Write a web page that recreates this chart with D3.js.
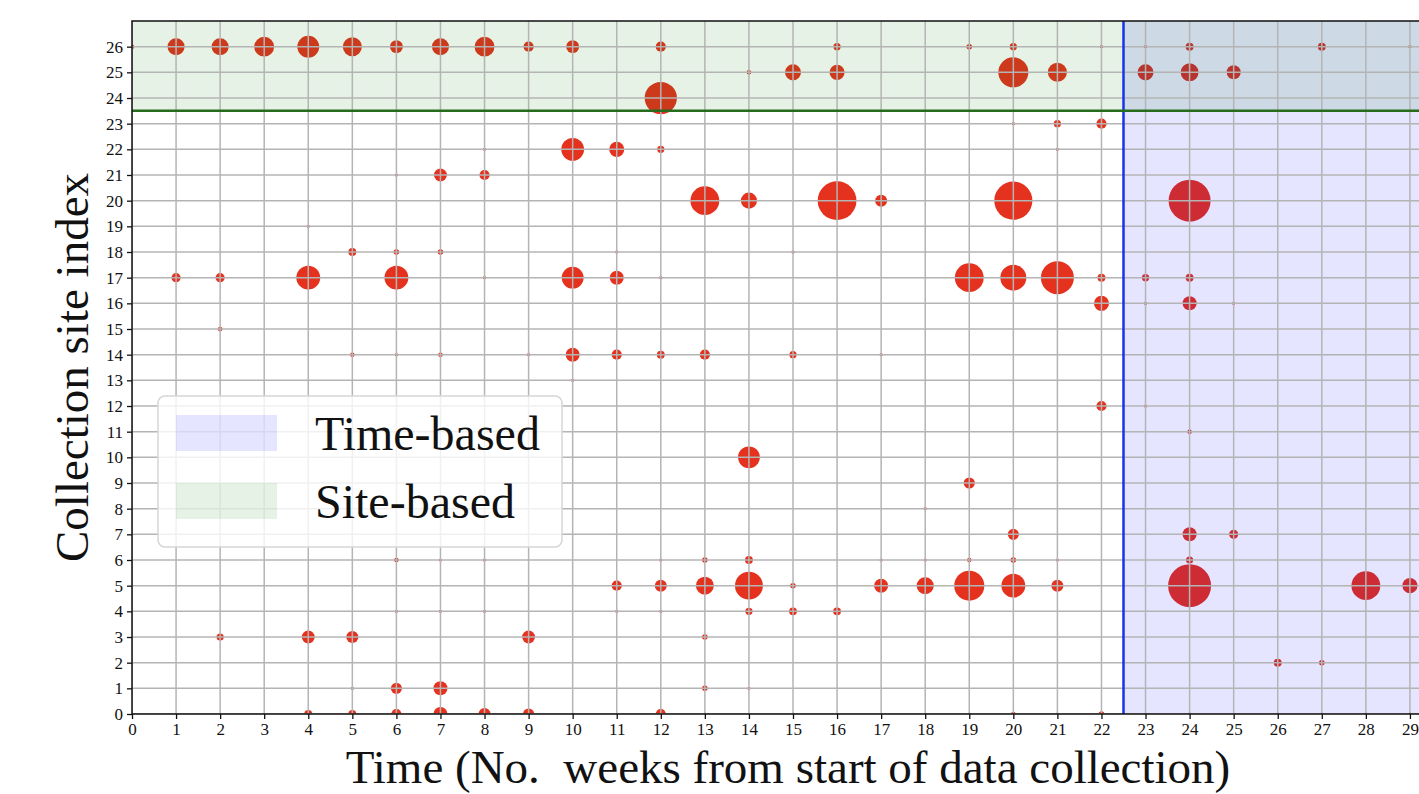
<!DOCTYPE html>
<html>
<head>
<meta charset="utf-8">
<script src="https://cdn.jsdelivr.net/npm/d3@7"></script>
<style>
  body { margin: 0; background: #fff; }
  svg { display: block; }
  .tick text { font-family: "Liberation Serif", "DejaVu Serif", serif; }
</style>
</head>
<body>
<script>
// ticks
const weekTicks = d3.range(0, 31);
const siteTicks = d3.range(0, 27);

// cut-offs of the two regions
const timeCut = 22.5;
const siteCut = 23.5;
const legendLabels = ['Time-based', 'Site-based'];

// [week, site index, no. of samples]
const observations = [
  [0, 26, 2], [1, 26, 28], [2, 26, 28], [3, 26, 38], [4, 26, 46], [5, 26, 35], [6, 26, 16],
  [7, 26, 28], [8, 26, 38], [9, 26, 10], [10, 26, 16], [12, 26, 10], [16, 26, 5], [19, 26, 3],
  [20, 26, 5], [22, 26, 1], [23, 26, 1], [24, 26, 6], [27, 26, 6], [29, 26, 1],
  [14, 25, 2], [15, 25, 25], [16, 25, 22], [20, 25, 87], [21, 25, 35], [23, 25, 25], [24, 25, 31], [25, 25, 19],
  [12, 24, 100],
  [20, 23, 1], [21, 23, 5], [22, 23, 10],
  [8, 22, 1], [10, 22, 50], [11, 22, 22], [12, 22, 5], [21, 22, 1],
  [6, 21, 1], [7, 21, 16], [8, 21, 10],
  [13, 20, 80], [14, 20, 25], [16, 20, 145], [17, 20, 14], [20, 20, 140], [24, 20, 170],
  [4, 19, 1],
  [5, 18, 6], [6, 18, 3], [7, 18, 3], [11, 18, 1], [15, 18, 1],
  [1, 17, 8], [2, 17, 8], [4, 17, 55], [6, 17, 55], [8, 17, 1], [10, 17, 46], [11, 17, 19],
  [12, 17, 1], [19, 17, 80], [20, 17, 65], [21, 17, 105], [22, 17, 6], [23, 17, 5], [24, 17, 6],
  [22, 16, 22], [23, 16, 1], [24, 16, 19], [25, 16, 1],
  [2, 15, 2],
  [5, 14, 2], [6, 14, 1], [7, 14, 2], [9, 14, 1], [10, 14, 19], [11, 14, 10], [12, 14, 6],
  [13, 14, 10], [15, 14, 5], [17, 14, 1],
  [10, 13, 1],
  [22, 12, 10], [23, 12, 1],
  [24, 11, 2],
  [14, 10, 46],
  [19, 9, 12],
  [18, 8, 1],
  [20, 7, 12], [24, 7, 19], [25, 7, 8],
  [6, 6, 2], [7, 6, 1], [8, 6, 1], [12, 6, 1], [13, 6, 3], [14, 6, 6], [17, 6, 1], [18, 6, 1],
  [19, 6, 2], [20, 6, 3], [21, 6, 1], [24, 6, 5],
  [11, 5, 10], [12, 5, 14], [13, 5, 31], [14, 5, 75], [15, 5, 3], [17, 5, 19], [18, 5, 28],
  [19, 5, 87], [20, 5, 55], [21, 5, 14], [24, 5, 178], [28, 5, 80], [29, 5, 22],
  [6, 4, 1], [7, 4, 1], [8, 4, 1], [11, 4, 1], [12, 4, 1], [14, 4, 5], [15, 4, 6], [16, 4, 6],
  [2, 3, 5], [4, 3, 16], [5, 3, 14], [9, 3, 16], [13, 3, 3],
  [26, 2, 6], [27, 2, 3],
  [5, 1, 1], [6, 1, 12], [7, 1, 19], [13, 1, 3], [14, 1, 1],
  [4, 0, 6], [5, 0, 6], [6, 0, 10], [7, 0, 19], [8, 0, 14], [9, 0, 12], [10, 0, 1], [12, 0, 10],
  [13, 0, 1], [15, 0, 1], [19, 0, 1], [20, 0, 2], [21, 0, 1], [22, 0, 3], [24, 0, 1],
  [26, 0, 1], [27, 0, 1], [28, 0, 1], [29, 0, 1]
];

const width = 1419;
const height = 794;
const margin = {top: 21, left: 132, bottom: 80};
const plotW = 1322;
const plotH = height - margin.top - margin.bottom;
const serif = '"Liberation Serif", "DejaVu Serif", serif';

const svg = d3.select('body')
  .append('svg')
  .attr('width', width)
  .attr('height', height);

const xScale = d3.scaleLinear().domain([0, 30]).range([margin.left, margin.left + plotW]);
const yScale = d3.scaleLinear().domain([0, 27]).range([margin.top + plotH, margin.top]);
const rScale = d3.scaleSqrt().domain([0, 170]).range([0, 21]);

svg.append('clipPath')
  .attr('id', 'plot-clip')
  .append('rect')
  .attr('x', margin.left)
  .attr('y', margin.top)
  .attr('width', plotW)
  .attr('height', plotH);

const plot = svg.append('g').attr('clip-path', 'url(#plot-clip)');

// bubbles
plot.selectAll('circle')
  .data(observations)
  .enter()
  .append('circle')
  .attr('cx', d => xScale(d[0]))
  .attr('cy', d => yScale(d[1]))
  .attr('r', d => rScale(d[2]))
  .attr('fill', '#e5321f');

// shaded regions (drawn over the bubbles, like the original)
plot.append('rect')
  .attr('x', xScale(timeCut))
  .attr('y', yScale(27))
  .attr('width', xScale(30) - xScale(timeCut))
  .attr('height', yScale(0) - yScale(27))
  .attr('fill', 'rgba(0,0,255,0.1)');

plot.append('rect')
  .attr('x', xScale(0))
  .attr('y', yScale(27))
  .attr('width', plotW)
  .attr('height', yScale(siteCut) - yScale(27))
  .attr('fill', 'rgba(0,128,0,0.1)');

// grid
plot.selectAll('.vgrid')
  .data(weekTicks)
  .enter()
  .append('line')
  .attr('x1', d => xScale(d)).attr('x2', d => xScale(d))
  .attr('y1', yScale(0)).attr('y2', yScale(27))
  .attr('stroke', '#b4b4b4')
  .attr('stroke-width', 1.5);

plot.selectAll('.hgrid')
  .data(siteTicks)
  .enter()
  .append('line')
  .attr('y1', d => yScale(d)).attr('y2', d => yScale(d))
  .attr('x1', xScale(0)).attr('x2', xScale(30))
  .attr('stroke', '#b4b4b4')
  .attr('stroke-width', 1.5);

// cut-off lines
plot.append('line')
  .attr('x1', xScale(timeCut)).attr('x2', xScale(timeCut))
  .attr('y1', yScale(0)).attr('y2', yScale(27))
  .attr('stroke', '#1733e8')
  .attr('stroke-width', 2.5);

plot.append('line')
  .attr('x1', xScale(0)).attr('x2', xScale(30))
  .attr('y1', yScale(siteCut)).attr('y2', yScale(siteCut))
  .attr('stroke', '#276b1d')
  .attr('stroke-width', 2.5);

// frame
svg.append('rect')
  .attr('x', margin.left)
  .attr('y', margin.top)
  .attr('width', plotW)
  .attr('height', plotH)
  .attr('fill', 'none')
  .attr('stroke', '#111')
  .attr('stroke-width', 1.5);

// axes
const xAxis = d3.axisBottom(xScale)
  .tickValues(weekTicks)
  .tickFormat(d3.format('d'))
  .tickSize(5)
  .tickPadding(4);

const yAxis = d3.axisLeft(yScale)
  .tickValues(siteTicks)
  .tickFormat(d3.format('d'))
  .tickSize(5)
  .tickPadding(4);

const gx = svg.append('g')
  .attr('transform', 'translate(0,' + yScale(0) + ')')
  .call(xAxis);

const gy = svg.append('g')
  .attr('transform', 'translate(' + margin.left + ',0)')
  .call(yAxis);

[gx, gy].forEach(g => {
  g.select('.domain').remove();
  g.selectAll('.tick line').attr('stroke', '#111').attr('stroke-width', 1.3);
  g.selectAll('.tick text').attr('font-size', 17).attr('fill', '#111');
});

// axis titles
svg.append('text')
  .attr('x', 788)
  .attr('y', 783)
  .attr('text-anchor', 'middle')
  .attr('font-family', serif)
  .attr('font-size', 47)
  .attr('fill', '#111')
  .style('white-space', 'pre')
  .text('Time (No.  weeks from start of data collection)');

svg.append('text')
  .attr('transform', 'translate(88,' + (yScale(0) + yScale(27)) / 2 + ') rotate(-90)')
  .attr('text-anchor', 'middle')
  .attr('font-family', serif)
  .attr('font-size', 47)
  .attr('fill', '#111')
  .text('Collection site index');

// legend
const legend = svg.append('g');

legend.append('rect')
  .attr('x', 158)
  .attr('y', 396)
  .attr('width', 404)
  .attr('height', 151)
  .attr('rx', 7)
  .attr('fill', 'rgba(255,255,255,0.8)')
  .attr('stroke', '#d6d6d6')
  .attr('stroke-width', 1.5);

const legendFills = ['rgba(0,0,255,0.1)', 'rgba(0,128,0,0.1)'];

legendLabels.forEach((label, i) => {
  legend.append('rect')
    .attr('x', 176)
    .attr('y', 415 + i * 68)
    .attr('width', 101)
    .attr('height', 36)
    .attr('fill', legendFills[i]);
  legend.append('text')
    .attr('x', 315)
    .attr('y', 450 + i * 68)
    .attr('font-family', serif)
    .attr('font-size', 48)
    .attr('fill', '#111')
    .text(label);
});
</script>
</body>
</html>
